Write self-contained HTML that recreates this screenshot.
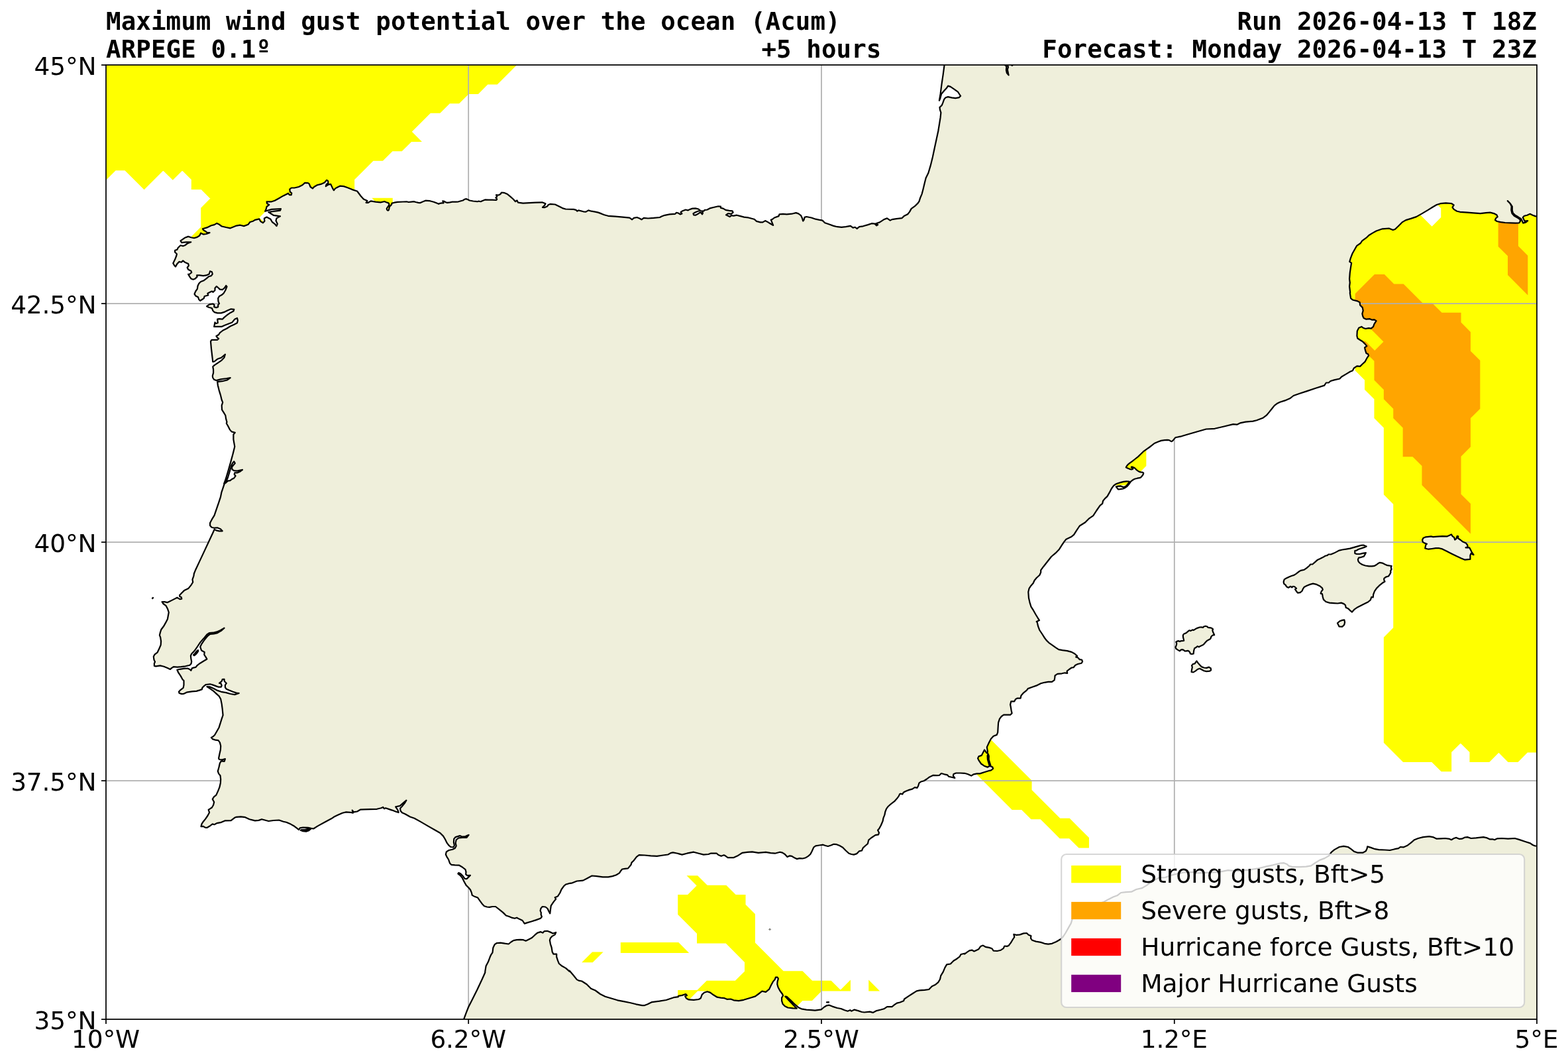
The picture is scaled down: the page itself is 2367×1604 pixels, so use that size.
<!DOCTYPE html>
<html lang="en">
<head>
<meta charset="utf-8">
<title>Maximum wind gust potential over the ocean (Acum) - ARPEGE 0.1º</title>
<style>
html,body{margin:0;padding:0;background:#fff;}
body{width:2367px;height:1604px;overflow:hidden;}
svg{display:block;}
.mono{font-family:"DejaVu Sans Mono","Liberation Mono",monospace;font-weight:bold;font-size:37.5px;fill:#000;letter-spacing:0.05px;}
.sans{font-family:"DejaVu Sans","Liberation Sans",sans-serif;font-size:37.5px;fill:#000;}
.tk{letter-spacing:-0.18px;}
</style>
</head>
<body>
<svg xmlns="http://www.w3.org/2000/svg" width="2367" height="1604" viewBox="0 0 2367 1604">
<defs><clipPath id="ax"><rect x="160" y="98" width="2160" height="1440"/></clipPath></defs>
<rect x="0" y="0" width="2367" height="1604" fill="#ffffff"/>
<g clip-path="url(#ax)">
<path d="M145.6,83.6 779.2,83.6 779.2,98 750.4,126.8 736,126.8 721.6,141.2 707.2,141.2 692.8,155.6 678.4,155.6 664,170 649.6,170 620.8,198.8 635.2,213.2 620.8,213.2 606.4,227.6 592,227.6 577.6,242 563.2,242 534.4,270.8 534.4,314 404.8,314 390.4,328.4 404.8,342.8 404.8,371.6 289.6,371.6 289.6,357.2 304,342.8 304,314 318.4,299.6 304,285.2 289.6,285.2 289.6,270.8 275.2,256.4 260.8,270.8 246.4,256.4 217.6,285.2 188.8,256.4 174.4,256.4 160,270.8 145.6,270.8Z M563.2,299.6 592,299.6 592,314 577.6,314Z M2334.4,299.6 2334.4,1134.8 2320,1134.8 2305.6,1134.8 2291.2,1149.2 2276.8,1149.2 2262.4,1134.8 2248,1149.2 2219.2,1149.2 2219.2,1134.8 2204.8,1120.4 2190.4,1134.8 2190.4,1163.6 2176,1163.6 2161.6,1149.2 2118.4,1149.2 2089.6,1120.4 2089.6,962 2104,947.6 2104,760.4 2089.6,746 2089.6,645.2 2075.2,630.8 2075.2,602 2060.8,587.6 2060.8,573.2 2046.4,558.8 2046.4,544.4 2032,544.4 2032,371.6 2060.8,342.8 2075.2,328.4 2104,328.4 2132.8,299.6Z M1715.2,674 1729.6,674 1729.6,702.8 1715.2,717.2 1700.8,731.6 1672,731.6 1672,717.2Z M1470.4,1091.6 1556.8,1178 1556.8,1192.4 1600,1235.6 1614.4,1235.6 1628.8,1250 1643.2,1264.4 1643.2,1278.8 1628.8,1278.8 1614.4,1264.4 1600,1264.4 1585.6,1250 1571.2,1235.6 1556.8,1235.6 1542.4,1221.2 1528,1221.2 1456,1149.2 1456,1106Z M880,1451.6 894.4,1437.2 908.8,1437.2 894.4,1451.6Z M937.6,1422.8 1024,1422.8 1038.4,1437.2 937.6,1437.2Z M1038.4,1322 1052.8,1322 1067.2,1336.4 1096,1336.4 1110.4,1350.8 1124.8,1350.8 1124.8,1365.2 1139.2,1379.6 1139.2,1422.8 1182.4,1466 1211.2,1466 1225.6,1480.4 1254.4,1480.4 1268.8,1494.8 1283.2,1480.4 1283.2,1494.8 1240,1494.8 1225.6,1509.2 1211.2,1509.2 1196.8,1523.6 1196.8,1538 1067.2,1538 1067.2,1494.8 1052.8,1494.8 1067.2,1480.4 1110.4,1480.4 1124.8,1466 1124.8,1451.6 1096,1422.8 1052.8,1422.8 1052.8,1408.4 1024,1379.6 1024,1350.8 1038.4,1350.8 1052.8,1336.4Z M1024,1494.8 1052.8,1494.8 1038.4,1509.2 1024,1509.2Z M1312,1480.4 1326.4,1494.8 1312,1494.8Z" fill="#ffff00" stroke="#ffff00" stroke-width="1.5" stroke-linejoin="miter"/>
<path d="M2161.6,299.6 2176,314 2176,328.4 2161.6,342.8 2132.8,314Z" fill="#ffffff"/>
<path d="M2161.6,299.6 2176,314 2176,328.4 2161.6,342.8 2132.8,314Z" fill="none" stroke="#ffff00" stroke-width="1.5" stroke-linejoin="miter"/>
<path d="M2075.2,414.8 2089.6,414.8 2104,429.2 2118.4,429.2 2147.2,458 2161.6,458 2176,472.4 2204.8,472.4 2204.8,486.8 2219.2,501.2 2219.2,530 2233.6,544.4 2233.6,616.4 2219.2,630.8 2219.2,674 2204.8,688.4 2204.8,746 2219.2,760.4 2219.2,803.6 2147.2,731.6 2147.2,702.8 2132.8,688.4 2118.4,688.4 2118.4,645.2 2104,630.8 2104,616.4 2089.6,602 2089.6,587.6 2075.2,573.2 2075.2,544.4 2046.4,515.6 2046.4,443.6Z M2262.4,328.4 2262.4,371.6 2276.8,386 2276.8,414.8 2305.6,443.6 2305.6,386 2291.2,371.6 2291.2,328.4Z" fill="#ffa500" stroke="#ffa500" stroke-width="1.5" stroke-linejoin="miter"/>
<path d="M2089.6,515.6 2075.2,530 2060.8,515.6 2046.4,515.6 2046.4,486.8 2060.8,486.8Z" fill="#ffff00"/>
<path d="M2089.6,515.6 2075.2,530 2060.8,515.6 2046.4,515.6 2046.4,486.8 2060.8,486.8Z" fill="none" stroke="#ffa500" stroke-width="1.5" stroke-linejoin="miter"/>
<path d="M707.2,98 V1538 M1240,98 V1538 M1772.8,98 V1538 M160,458 H2320 M160,818 H2320 M160,1178 H2320" fill="none" stroke="#b0b0b0" stroke-width="1.75"/>
<path d="M1425.5,92 1425.6,98 1423.7,112.3 1421.5,127.2 1419.6,142 1417.9,151.7 1419.2,149.1 1421.1,141.7 1425.6,136.5 1429.3,132.4 1431.1,129.6 1434.9,130.9 1440.4,134.6 1446,138.7 1448.2,142 1450.1,144.8 1447.9,147.1 1442.3,148.2 1436.7,147.3 1431.1,146.1 1427.4,147.3 1425.2,149.9 1423.3,155.1 1421.8,158.8 1418.5,162.1 1419.1,166.2 1420.4,169.9 1419.6,177.4 1418.1,186.7 1416.3,197.8 1413.5,210.8 1410.7,223.8 1407.9,236.9 1404.7,249.9 1401.4,261 1397.7,268.5 1395.8,275.9 1393.6,285.2 1391.7,292.6 1389.3,298.2 1387.5,303.8 1385.6,306.6 1380.9,311.2 1375.7,314.9 1373.1,319.6 1370.2,323.3 1364.6,326.1 1361.4,329.2 1353.1,330.2 1346.6,331.1 1343.8,332.6 1339.1,329.4 1334.1,331.3 1328,335.4 1322.4,337.2 1325.2,339.1 1323.3,340.4 1320.5,337.6 1315.9,337.2 1310.3,339.1 1302.9,341.3 1297.3,342.2 1293.6,345 1290.8,342.8 1287.6,343.7 1283.9,340.9 1276.9,342.2 1270.3,342.8 1263.8,342.2 1258.3,340.9 1251.8,338.5 1245.2,336.3 1241.5,332.6 1236,331.7 1231.3,330.7 1224.8,328.5 1217.4,327 1214.6,327.9 1213.6,331.7 1212.2,333.5 1210.9,328.9 1209,325.1 1205.3,322.4 1201.6,321.1 1195.1,322.7 1187.6,323.3 1182,322.9 1176.5,323.3 1175.5,326.1 1169,328.5 1166.2,330.7 1163.8,331.7 1165.3,335.4 1167.2,340 1162.5,337.2 1157.9,334.4 1155.1,333.1 1151.4,335.4 1147.7,335.4 1142.1,333.9 1138.4,330.7 1130,328.5 1129.8,328.4 1123.3,327.6 1117.7,326.1 1112.2,324.7 1107.5,325.6 1103.8,325.2 1101.6,327.1 1099.1,325.8 1096,324.3 1099.1,322.1 1103.8,322.8 1106.6,320.6 1105.7,318.3 1101,317.8 1095.4,316.9 1091.7,314.6 1088,313.7 1088,311.6 1084.3,311.3 1077.8,312.8 1072.2,314.1 1067.5,316.5 1063.8,316.9 1062,318.7 1059.2,318.3 1061,321.5 1060.1,323.4 1057.3,320.2 1053.6,322.8 1049.9,324.7 1047.1,324.3 1046.5,322.1 1049.9,320.2 1053.6,318.7 1057.3,317.8 1054.5,315.5 1049.9,314.4 1045.2,314.6 1040.6,316.3 1038.7,317.4 1035,316.5 1030.4,318.2 1027.6,320.2 1029.4,322.4 1026.7,323.4 1023.9,321.5 1021.1,320.9 1019.2,322.8 1010.9,323.4 1003.4,324.8 998.8,326.5 996,328 986.7,328.9 978.3,329.5 971.8,328.9 968.5,331.3 965.3,329.5 961.6,328 956.9,328.9 954.2,331.3 950.4,328.6 940.2,327.6 929.1,326.7 917.9,325.8 912.3,324.3 907.7,322.4 903,320.6 898.4,319.6 892.8,318.7 888.2,317.4 884.5,319.6 880.7,319.3 873.3,317.4 871.4,318.7 869.6,316.9 865.9,315.9 853.8,315.5 849.1,314.1 843.6,311.3 838,308.5 830.5,307.9 827.8,309 825.9,311.6 822.2,313.1 819,312.8 822.2,309.8 823.5,307.2 818.5,305.3 808.2,305.7 798.9,306.1 789.6,306.6 782.2,305.7 780.4,302.4 778.1,304.2 774.8,300.5 770.1,296.4 765.5,292.7 760.8,290.8 757.1,290.5 755.3,293.1 752.5,294.5 749.1,294.2 750.2,296.8 748.4,298.3 750.2,300.5 749.1,302 743.2,301.6 737.6,301.6 732,301.4 728.3,302.9 725.5,304.2 722.7,303.5 720.5,304.2 714.4,303.5 708.8,302.5 706,301 703.6,300.1 701.3,300.7 699.4,302.2 695.7,303.2 692,304.3 688.3,304.6 682.7,304.7 679,305.4 675.2,305.9 672.9,305.2 670.6,303.8 668.3,303.3 669.2,304.7 669.5,306.3 666.9,306.4 664.1,306.8 662.2,307.8 659.4,306.6 654.8,304.7 649.2,303.2 645.5,302.9 642.3,302.7 639,304.1 636.2,305.2 634.4,306.1 631.6,305.9 627.8,305 624.6,304.1 620.4,304.6 616.7,305 613.9,304.3 608.3,304.5 600,304.9 595.3,305.7 591.6,306.6 591.1,308.5 589.7,310.3 588.3,311.2 587.4,314.5 586.8,317.1 585.6,317.7 584.4,316.8 583.7,315 584.6,313.1 586.2,311.2 587.4,308.9 587.1,307.1 586,306.1 583.2,305.2 580.4,304.1 580.5,304 574.5,305.3 567.1,304.7 559.7,303.4 555.9,305.8 552.6,305.8 554.5,303 548.9,300.6 544.8,296 539.2,288.5 531.8,286.1 524.3,283 518.8,281.1 513.2,280.7 509.5,282.6 506.1,284.4 503.9,287.2 502,283.9 499.2,277.9 495.5,278.7 491.8,281.1 492.7,278.3 495.5,276.5 495.2,273.1 493.1,271.8 489.9,275.5 484.4,277.9 478.8,279.2 474.1,282 471.9,284.4 468.6,282 466.7,277.4 464.9,276.1 460.2,275.9 456.5,279.2 450.9,282 444.4,283.5 439.8,283.5 437.3,285.7 437.9,289.5 440.3,291.3 439.8,294.1 437,294.1 435.1,291.7 427.7,295.4 420.2,299.7 414.7,302.8 410,304.3 402.6,304.3 403.1,307.1 406.3,309 402.6,311.8 401.7,315.5 400.2,318.8 410,315.9 424,315.1 423,317.7 410.9,319.2 405.4,320.1 412.8,324.8 423,326.3 417.5,329.4 416.5,333.1 418.8,337.8 417.5,341.1 414.7,337.8 410.9,335 408.2,330.4 402.6,327.6 398.9,329.4 399.4,333.7 397,336.3 393.3,334.1 391.4,330.4 384.9,331.8 382.1,333.7 377.5,335 374.7,338.7 368.2,341.1 362.6,339.7 357,340.6 347.7,344.3 341.2,343 334.7,341.5 330.1,338.2 327.3,336.9 323.6,339.1 318.9,340.2 312.4,343.4 305.9,345.2 306.9,347.1 310.6,349.3 312.4,350.8 316.5,351.2 311.5,353 306.9,353.6 303.1,351.7 301.3,355.5 297.6,357.9 292.9,359.2 288.3,358.2 284.2,356.9 279,358.8 272.5,363.4 274.3,366.2 280.8,365.3 288.3,365.3 282.7,367.5 279,370.3 276.2,371.3 272.5,370.3 268.7,374 267.4,376.8 264.1,377.8 264.1,380.5 266.9,383.3 266.3,385.9 266.3,386 264.1,391.6 261.3,397.2 263.2,400.5 265,402.4 267.4,398.1 270.6,394.9 273.8,395.7 276.2,393.4 279,395.7 284.2,398.1 284.9,400.9 282.7,403.7 284.2,406.8 288.3,408.7 289.2,411.1 286.4,413.5 284.2,413.9 286.4,417.6 288.3,420.4 291.6,421.7 294.8,420.4 297.6,417.6 297.2,415.4 301.3,415.4 306.9,416.1 311.5,415.4 315.8,413.5 317.1,409.2 319.9,410.2 320.8,413.5 318.9,416.1 315.2,417.2 311.5,420.4 307.8,423.2 303.1,425 300.3,427.8 298.5,431.5 297.9,435.8 295.3,439.5 293.5,443.6 295.3,446.4 299,448.3 300.3,452 302.2,453.8 305,452 307.8,450.1 308.7,447 314.3,445.5 313.4,442.7 317.1,440.8 319.9,439.5 321.7,440.8 324.5,438 324.5,434.7 326.9,432.1 329.2,434 331.9,436.6 335.7,437.1 338.8,434.7 341.2,431 342.5,432.5 340.3,438 337.5,442.7 334.7,445.1 331,447 329.2,450.1 329.5,454.8 331,458.1 329.2,460 329.2,463.1 326.4,464.1 323.2,463.1 323.6,460 321.3,458.5 316.1,459.4 312.1,462.2 315.2,463.7 319.9,465 321.3,468.7 323.6,471.1 328.2,472.4 333.8,472.4 339.4,470.6 344,468.2 348.7,466.3 353.3,466.9 352.4,469.6 347.7,471.9 343.1,475.2 338.5,478.9 335.7,481.7 331,481.2 328.2,481.7 328.8,487.3 325.8,488.2 324.5,486.4 323.2,492.9 328.2,492.9 334.4,492.9 339.4,490.7 345.9,488.2 350.5,486.4 354.3,481.7 358,479.9 358.9,483.6 358,487.3 353.3,489.7 347.7,492.3 342.2,495.7 336.6,498.5 331.9,502.2 330.1,505 326.4,507.2 328.2,509.6 330.1,510.9 328.2,512.8 323.6,512.8 319.5,512.8 318,515.2 318.9,525.4 320.2,536.6 321.3,545.9 323.6,545.5 328.2,541.8 333.8,539.9 337.5,536.9 339.9,534.7 338.5,539.4 334.7,543.6 329.2,547.3 323.6,551.1 321.3,553.3 322.1,557.9 322.1,562.6 320.8,567.2 321.3,570 323.2,572.8 326.4,574.1 332.9,572.4 342.2,571 347.7,570 343.1,573.4 335.7,575.2 328.2,576.2 328.8,581.2 330.6,588.6 332.9,596.1 334.7,603.5 336.2,607.2 334.7,611.9 335.1,618.4 337.5,622.1 340.3,626.7 341.2,632.3 342.5,636.9 341.8,638.8 344,642.5 346.8,648.1 349.6,651.4 354.8,652.7 352.4,655.5 352.4,663 353.7,670.4 354.3,673.9 354.3,674 351.5,685.2 347.7,699.1 344,712.1 340.3,724.2 338.1,729.8 341.2,727 344,720.5 346.8,711.2 349.2,702.8 351.5,698.2 353.3,696.3 354.8,699.1 352.4,701.9 350,704.7 350.5,708.4 353.3,710.2 358,710.6 366,708.9 362.6,711.5 358,713.4 354.3,713.4 353.7,715.8 355.6,718.2 353.3,721.4 349.6,723.3 347.4,725.1 344,725.7 341.2,728.3 338.8,729.8 336.6,736.3 334.4,742.8 332.9,750.2 330.1,758.6 326.9,767.9 323.6,777.7 319.9,783.7 317.1,788.9 317.1,793 319.5,795.8 323.6,796.7 328.2,796.3 332.9,798.2 335.7,801.3 331,801.3 326.4,800.4 323.6,798.9 321.7,803.2 316.1,815.3 308.7,831.1 301.3,846.9 294.8,860.8 292.9,865.5 292.4,869.2 290.5,874.4 291.2,878.5 288.3,883.1 284.2,888.1 278,891.1 274.3,894.8 271.2,898 271.2,899.9 273.8,901.2 274.3,903.6 271.5,904.1 267.4,901.7 261.3,904.9 252.9,909.1 248.3,908.2 244.6,908.2 246.4,911 250.7,914.2 252.9,918.4 254.8,924 253.9,928.7 252.9,934.2 250.2,939.4 247.4,944.5 243.3,950 241.8,954.7 240.9,958.4 242.2,961.9 242.2,962 243.1,967.6 242.7,973.2 240.3,978.7 237.7,984.3 233.4,987.7 231.8,990.8 232.5,995.5 234,998.8 232.9,1001 232.9,1004.8 235.3,1005.3 241.8,1004.4 247.4,1005.7 252.9,1007.9 257,1010 258.9,1008.1 261.9,1006.2 267.8,1006.6 273.4,1006.2 279.9,1005.3 286.4,1003.8 288.6,1001.4 289.2,998.2 288.3,993.6 287.9,989.5 289.2,986.5 292.4,983.4 295.3,979.7 298.5,975 302.2,969.4 306.9,963.9 308.7,962 308.7,961.9 312.4,957.5 315.8,955.1 321.7,954.7 327.3,953.4 332.9,951 338.5,947.6 333.8,951.9 328.2,955.1 322.7,956.5 317.1,956.9 313.9,959.3 311.5,961.9 311.5,962 307.8,966.6 304.1,972.2 302.2,975.9 304.1,981.5 308.7,983.9 308.3,988 310.6,991.4 312.4,994.5 307.8,997.3 302.2,1000.7 297.9,1003.8 295.7,1006.6 290.1,1008.1 288.3,1011.8 286.4,1010 283.1,1008.5 277.1,1008.8 271.5,1009.8 267.4,1010.7 269.3,1015 272.5,1019.6 275.6,1025.2 277.5,1027.1 277.5,1033.6 276.7,1037.8 272.5,1041 270,1043.8 270.6,1046 274.3,1047.1 277.1,1047 281.8,1044.7 290.1,1043.4 296.6,1042.9 301.6,1041.4 305,1040.1 305.4,1037.8 308.3,1034.9 310.9,1033 317.1,1032.3 321.7,1033.6 326.4,1035.4 330.1,1036.7 333.8,1036.7 334.7,1034.5 333.8,1031.7 331,1030.8 334.7,1028 335.7,1025.2 338.5,1024.8 338.8,1028 341.8,1031.1 339.9,1033.6 339.9,1037.3 341.8,1039.7 345.9,1041.6 351.5,1043.8 357,1045.6 360.8,1046 354.3,1048.1 347.7,1047 341.2,1045.1 333.8,1043.8 328.2,1041.9 322.7,1039.1 317.1,1036.4 312.4,1036 317.1,1039.1 321.7,1042.3 326.4,1046.6 330.6,1050.3 333.2,1054.9 334.7,1062.4 335.7,1069.8 336.6,1079.1 334.7,1084.7 332.9,1090.3 330.6,1097.7 326.9,1104.2 324,1109.2 321.3,1111.6 318.9,1112.9 321.3,1115.4 325.4,1116.7 329.5,1117.2 331.9,1120.4 333.2,1125.6 332.9,1131.2 331.4,1137.7 330.1,1144.2 331,1146 335.7,1146.4 339.9,1145.1 338.8,1148.8 333.8,1148.4 331.9,1151.6 330.6,1157.2 328.8,1163.7 330.1,1167.4 332.5,1170.2 333.2,1175.8 332.9,1181.3 331.4,1187.9 329.2,1193.4 326.4,1199.6 322.7,1202.7 320.8,1205.9 323.2,1210.2 322.1,1214.8 319.9,1218.5 317.1,1220.4 314.7,1221.9 316.1,1226 313.4,1231 310.2,1235.6 306.9,1239.7 304.6,1243.1 303.5,1247.1 306.9,1246.8 309.6,1248.6 312.4,1249 316.1,1246.8 320.8,1243.4 323.6,1244.2 327.3,1242.1 332.9,1241.2 339.4,1238.4 348.7,1238.2 354.3,1233.8 357,1232.8 363.5,1232.3 370.1,1233.2 376.6,1236.2 384.9,1238.4 390.5,1237.9 395.1,1236.2 405.4,1239 412.8,1238 421.2,1237.5 427.7,1239.7 432.3,1240.8 438.8,1243.6 444.4,1246.8 448.1,1249.6 450.9,1252 452.8,1249.4 457.4,1248.6 464.9,1248.8 469.5,1249.9 473.2,1250.5 479.7,1246.4 490.9,1240.3 500.2,1235.3 503.9,1232.8 509.5,1230 516.9,1226.7 522.5,1225.4 529,1225.8 532.7,1226.7 531.8,1222.6 534,1225.4 539.2,1224.5 543.9,1221.7 550.4,1221.3 559.7,1221.1 569,1220.8 575.5,1219.3 578.2,1218 580.1,1220.4 582,1219.3 587.5,1221.1 592,1222.6 592,1222.6 597.6,1224.8 601.7,1226 600.4,1222.2 597.2,1217.4 600.4,1216.7 603.5,1216.1 607.8,1212.4 613.4,1207.7 610.6,1212.4 606.9,1216.7 604.1,1219.8 604.6,1223.5 606.9,1226.3 611.5,1228.2 619,1232.5 625.5,1234.7 634.8,1239.9 645.9,1246.4 657.1,1252.7 664.5,1257 669.1,1261.6 671.9,1266.3 674.7,1271.9 677.5,1275.6 680.3,1278 684.6,1278.4 685.9,1275.6 684.9,1270.9 685.3,1265.7 687.7,1263.1 694.2,1261.1 697.6,1262.6 702.6,1262 707.6,1259.8 704.5,1263.9 698,1263.9 692.4,1264.4 688.7,1267.2 687.7,1271.9 688.7,1276.5 686.8,1279.9 683.1,1281.7 677.5,1283 673.8,1285.4 672.9,1289.2 674.2,1292.3 677.1,1297 679,1302.5 681.2,1304.8 686.8,1305.3 693.3,1305.7 698,1308.5 702.6,1312.2 703.5,1315.6 703.2,1319.3 705.4,1321.1 710,1320.8 706.9,1323.9 704.5,1326.2 701.7,1325.8 698.9,1322.1 695.2,1318.3 692.4,1317 691.4,1318.3 694.6,1320.8 698,1324.9 700.7,1330.4 703.5,1335.6 707.2,1339.3 710,1342.5 711.9,1347.2 712.8,1350.9 715.6,1352.4 721.2,1354.6 724.9,1359.8 728.6,1364.8 731,1367.2 735.1,1368.5 738.9,1368.9 743.5,1368 748.1,1368 753.7,1372.3 759.3,1376.9 763.9,1381.5 768.6,1383 773.2,1384.9 777,1385.8 780.1,1384.7 783.5,1386.6 788.7,1389 791.8,1393.6 796.5,1392.1 802.1,1390.5 809.5,1388.1 816,1385.8 817.9,1383.4 816.6,1379.7 816.9,1377.3 815.6,1374.1 816.6,1370.4 818.8,1368 823.4,1368.5 826.6,1371 828.4,1375 830.3,1378.4 830.9,1373.2 831.8,1366.7 835.5,1361.1 839.2,1356.5 837.7,1354.2 842,1352.4 845.2,1347.5 847.6,1342 851.3,1336.9 854.1,1334.5 858.7,1333.2 863.8,1332.3 870.8,1329.5 880.1,1328.6 886.6,1325.2 893.5,1321.5 900.6,1322.1 909.9,1323.4 918.2,1323.4 924.7,1322.1 930.3,1320.2 935,1317.4 937.4,1313.7 939.2,1311.5 943.3,1310.9 948,1310.4 952.6,1304.8 953.5,1301.6 956.7,1298.5 961,1292.9 964.7,1290.1 973.1,1290.5 982.4,1291.4 991.7,1291.8 1001,1290.5 1008.4,1289.5 1012.5,1287.1 1015.8,1286.4 1024,1288 1024,1288.1 1029.6,1289.6 1037,1287.7 1047.2,1285.7 1054.7,1287.7 1062.1,1289.6 1069.5,1289 1072.7,1287.7 1081.6,1287.5 1084.4,1290 1088.7,1291.8 1092.8,1290.3 1095.6,1291.8 1098.7,1294.1 1107.6,1294.1 1114.2,1290.9 1120.7,1286.8 1128.1,1285.9 1135.5,1285.3 1144.8,1286.8 1156,1285.9 1163.4,1287.2 1169.9,1287.7 1177.4,1285.7 1181.1,1286.6 1184.8,1289 1188.5,1293.1 1192.2,1291.3 1195,1291.8 1199.7,1294.6 1202.8,1296.1 1207.1,1295.2 1211.7,1295.5 1216.4,1294.2 1220.1,1291.8 1223.3,1289 1225.7,1284.4 1228.5,1278.3 1231.3,1276.4 1236.8,1275.5 1242.4,1274.7 1246.1,1276 1249.9,1277 1254.5,1275.5 1258.6,1273.8 1262.9,1274.2 1267.5,1276 1272.2,1278.8 1276.8,1283.5 1281.5,1287.7 1285.2,1289 1288.9,1289.6 1293.5,1288.1 1296.9,1284.4 1301,1283.5 1302.8,1279.4 1306.5,1276 1309.9,1273.2 1311.2,1267.7 1314.9,1264.5 1321.4,1260.2 1326.1,1259.3 1327,1256.5 1325.1,1252.8 1327.4,1250 1327.4,1249.9 1329.8,1245.5 1332.6,1239 1333.5,1234.3 1335.4,1229.7 1336.3,1225 1338.1,1220.4 1340.9,1216.7 1344.7,1213.3 1350.2,1209.2 1353.9,1205.1 1356.7,1201.4 1358.2,1198.1 1360.1,1197.7 1362.3,1198.4 1363.8,1195.8 1367,1194 1372.5,1191.9 1377.2,1190.6 1380.9,1188.2 1384.6,1188.8 1386.1,1186 1387.4,1181.7 1390.2,1179.5 1394.8,1178.2 1398.6,1175.8 1403.2,1172.4 1408.8,1169.8 1414.4,1170.2 1418.1,1169.8 1420.9,1167 1425.5,1168.3 1430.2,1169.3 1432,1171.7 1437.6,1173 1441.3,1173.9 1438.9,1170.6 1439.5,1168 1443.2,1166.5 1449.7,1166.5 1456,1166.8 1456,1166.8 1460.6,1168 1466.2,1170.6 1469.9,1168.3 1474.6,1167.4 1479.2,1167.4 1485.7,1165.2 1492.2,1163.3 1496,1162.4 1499.1,1160 1498.4,1157.6 1495.8,1156.4 1494.3,1151.6 1492.6,1146 1492.8,1140.8 1491.7,1137.7 1490.6,1140.1 1490.9,1146 1492.4,1151.2 1493.9,1156.1 1490.9,1157.6 1485.7,1155.7 1481.1,1152.5 1477.9,1147.9 1476.1,1144.2 1477.4,1141.4 1481.7,1139.9 1483.9,1135.8 1486.1,1131.5 1489.1,1135.8 1490.6,1136.7 1490.9,1133.9 1489.8,1127.4 1493.2,1120 1496,1114.8 1499.7,1110.7 1504.7,1108.9 1506.2,1105.1 1506.6,1097.7 1507.1,1090.3 1509,1084.7 1511.8,1081 1515.1,1078.7 1520.1,1078.6 1525.1,1078.7 1527.6,1076.3 1526.6,1071.7 1525.7,1066.1 1525.1,1063.3 1526.3,1058.3 1531.3,1058.3 1533.1,1054.9 1535.9,1053.6 1540.6,1053.6 1541.5,1049.4 1545.2,1045.3 1549.9,1041.6 1551.7,1039.1 1558.2,1036.7 1565.7,1034.1 1571.2,1031.3 1576.8,1029.8 1582.4,1028.9 1588,1028.9 1591.7,1026.1 1592.3,1022.4 1592.6,1019.3 1596.3,1016.8 1602.9,1016.3 1607.5,1015.3 1611.2,1015.9 1610.7,1012.6 1614,1010 1617.7,1007.5 1620.5,1007.2 1623.3,1003.8 1627,1002 1632.6,1000.7 1634.1,998.2 1633,995.5 1629.8,995.1 1627,992.3 1624.2,991.4 1626.1,989.9 1622.4,986.5 1617.7,983.9 1611.2,982.1 1603.8,981.1 1598.2,980.2 1593.6,977.2 1588,973.2 1583.3,969.8 1579.6,966.1 1576.5,962 1576.5,961.9 1573.1,956.5 1569.4,951 1567.2,945.4 1565.7,938.9 1564.7,938 1569,936.1 1567.2,933.3 1563.8,927.7 1560.1,921.2 1556.4,915.3 1554.5,909.1 1553,902.6 1552.3,893.3 1553.6,887.8 1556.4,883.7 1559.7,880 1561.6,875.7 1564.7,872 1569.4,867.7 1571.2,863.6 1571.2,860.4 1575,855.2 1580.5,848.2 1587,840 1593.6,834.4 1599.1,828.7 1602.9,822.7 1606.6,817.1 1609.4,813.8 1614,811.6 1617.7,809.7 1621.1,806.9 1625.2,800.4 1629.8,793.5 1638.2,788.3 1643.7,782.7 1650.3,778.1 1654.9,771 1660.5,762.9 1664.2,759.9 1665.1,755.8 1667.9,752.4 1671.6,748.9 1675.3,742.4 1676.5,740 1677.8,737.5 1679.6,734.9 1681.7,732.3 1684.3,730.5 1687.4,729.2 1692,727.9 1696.1,726.9 1700.3,726.4 1703.9,726.5 1705.2,727 1703.4,729.2 1701.3,732 1699.2,734.1 1696.1,735.1 1693.8,734.4 1692,733.4 1687.9,733.6 1684.8,734.4 1686.3,736.4 1688.1,738.5 1691,738.2 1695.1,737.5 1698.2,736.2 1701.3,734.1 1703.9,731 1706,728.2 1707.5,726.1 1709.6,724.5 1712.7,722.7 1716.8,721.7 1719.9,721.2 1722.2,720.4 1724,718.3 1725.3,716.5 1726.1,714.7 1726.1,713.4 1724.5,712.7 1722,712.4 1719.9,711.9 1717.8,710.6 1715.8,709.1 1713.7,707 1712.2,705.7 1710.3,704.9 1708.3,704.4 1707.8,705.2 1709.6,706.2 1710.3,707 1709.8,708 1708,708.3 1705.4,707.8 1702.3,706.5 1699.8,705.2 1700.8,703.4 1702.3,701.3 1704.9,699.2 1709.1,696.1 1713.7,692.5 1718.3,688.9 1722,685.3 1725.6,681.7 1729.7,678.6 1734.9,675 1739,671.9 1742.6,669 1747.8,666.7 1752.9,664.9 1758.1,664.1 1762.2,663.9 1764.8,664.1 1766.9,665.4 1768.7,666.2 1770.5,664.9 1772.3,662.6 1774.1,660.5 1775.1,660 1783.5,658.3 1792.8,655.5 1805.8,651.8 1820.7,647.5 1833.7,646.8 1846.7,643.8 1861.6,640.1 1867.2,640.7 1871.8,638.4 1880.2,636.6 1891.3,635.6 1896.9,634.2 1906.2,630.8 1911.8,626.7 1915.5,622.4 1920.2,616.5 1923.9,611.9 1927.6,609.1 1932.2,606.8 1939.7,604.4 1947.1,601.3 1952.7,597 1962,593.8 1973.1,590.1 1986.1,585.8 1999.2,581.6 2001.9,577.5 2005.7,577.5 2008.5,575 2014,573.4 2022.4,571.5 2025.2,568.5 2032.6,564.1 2038.2,560.7 2041.9,559.2 2043.8,555.5 2048.4,552.4 2053.1,552.9 2056.8,549.2 2060.5,545.9 2063.3,540.7 2066.1,536.6 2065.1,534.3 2062.4,532.9 2060.9,528.2 2060.1,524.5 2063.3,522.1 2060.5,518.9 2056.8,515.2 2053.1,513 2049.3,510.5 2048.4,506.8 2048.8,499.4 2051.2,494.7 2055.3,492.9 2057.7,494.7 2061.4,496 2066.1,495.1 2069.8,495.7 2073.1,492.9 2074.4,489.2 2077.6,484.1 2074.4,482.3 2071.3,482.7 2067.9,481.2 2062.4,481.7 2058.6,479.9 2057.2,477.1 2056.4,473.4 2057.7,468.7 2056.8,464.1 2053.1,460.4 2052.7,456.3 2049.3,454.4 2041.9,452.5 2039.1,450.1 2037.8,441.8 2038.2,441.4 2037.1,432.1 2037.8,426.5 2037.1,420.9 2037.8,411.7 2038.9,404.2 2040.1,396.8 2037.3,394.9 2038.9,389.3 2041.4,382.8 2045.1,376.3 2048.2,370.8 2053.8,367 2056.2,363.3 2062.7,358.7 2066.5,355 2072,351.6 2077.6,348.5 2086.9,345.3 2097.1,344.7 2102.7,347 2105.9,346 2111.1,341 2116.6,335.4 2122.2,332.1 2129.7,329.9 2138,327.1 2146.4,322.4 2155.7,316.9 2163.1,312.2 2168.7,309 2174.3,307.2 2182.6,306.3 2191,307 2194.7,309.4 2192.5,312.8 2194.7,315.9 2199.4,318.7 2204,319.8 2215.2,320.6 2224.5,321.3 2234.7,322.1 2243,321.1 2249.5,320.6 2255.1,322.1 2259.4,324.3 2260.7,327.1 2257.9,329.5 2257,332.1 2259.8,334 2265.3,335.1 2271.9,336 2280.2,336.4 2287.7,336.7 2293.2,336.4 2295.1,333.6 2294.2,330.8 2290.4,328.4 2285.8,325.8 2282.5,322.1 2281.3,316.9 2281.7,311.3 2279.3,306.6 2275.8,303.1 2280.2,307.6 2282.8,311.6 2282.8,317.2 2283.9,321.5 2287.3,324.7 2291.7,327.3 2296.2,330.2 2297.7,333.2 2299.2,336.6 2303.5,335.4 2306.2,333.2 2301.6,333.6 2300.3,331.3 2298.8,328 2301,325.8 2305.3,324.7 2309.6,322.8 2313.7,324.7 2317.4,326.1 2320,326.7 2326,326.7 2326,92Z M700,1544 700.2,1537.9 703.5,1528.8 707.2,1519.5 712.8,1508.4 720.3,1493.5 727.7,1477.7 732.3,1467.5 732.3,1465.9 733.6,1457.8 737,1451.3 739.8,1443.8 741.6,1440.1 743.5,1437.3 744.4,1429.9 746.7,1425.2 750,1423 755.6,1422.6 762.1,1423.7 767.7,1424.5 771.4,1421.5 775.1,1419.1 780.1,1418.2 785.3,1417.8 790,1418.2 793.7,1419.7 798.3,1417.4 803,1415 807.6,1410.7 811.3,1407.6 816,1406.1 819.2,1407.6 821.6,1405.2 826.2,1404.8 830.9,1406.6 834.6,1408.5 839.2,1407 837.7,1410.4 833.7,1412.6 830.9,1415.6 829.9,1418.7 830.9,1424.3 832.7,1429.9 833.7,1436.4 835.5,1439.7 840.2,1439.7 840.2,1443.8 842,1449.4 843.9,1454 848.5,1457.8 854.1,1460.9 859.7,1465.9 859.7,1464.7 865.3,1471.2 870.8,1478.1 873.6,1479.6 878.3,1480.5 885.7,1485.2 892.2,1491.7 898.7,1494.5 906.1,1500 913.6,1503.7 922.9,1506.5 932.2,1509.3 941.5,1511.2 950.8,1513 960.1,1515.3 969.3,1517.1 973.1,1517.1 977.7,1515.3 984.2,1512.1 995.4,1510.6 1005.6,1509 1016.8,1505.2 1024,1504.1 1024,1502.8 1029.6,1501.9 1035.2,1500 1037,1501.9 1034.2,1503.2 1036.1,1506.5 1039.8,1508.4 1047.2,1508.8 1054.7,1508 1057.8,1506.2 1059.7,1500.9 1063,1497.8 1067.7,1496.3 1072,1497.6 1077,1501.3 1082.6,1504.7 1088.1,1505.6 1093.7,1506.2 1097.4,1507.8 1103,1507.5 1107.6,1509.3 1115.1,1510.2 1122.5,1508.8 1131.8,1506 1140.2,1503.4 1144.8,1500 1150.4,1495.7 1156,1496.9 1161.2,1492.6 1163.8,1487 1166.8,1481.4 1169.9,1477.7 1170.9,1474.6 1173.6,1474.6 1174.9,1476.8 1173.6,1481.4 1173.3,1485.1 1174.6,1489.8 1177.4,1495 1181.1,1500 1182,1502.2 1180.1,1505.6 1180.1,1510.2 1181.6,1514.9 1184.8,1518.2 1189.4,1520.5 1196.9,1521.4 1202.8,1521.6 1197.8,1516.7 1191.3,1509.9 1185.3,1503.5 1187.6,1503.9 1194.1,1509.9 1200.6,1516.2 1205.8,1520.5 1209.9,1522.3 1217.3,1523.6 1224.8,1524.2 1230.3,1524.7 1239.6,1523.3 1244.3,1519.5 1248,1517.3 1251.7,1516.7 1256.4,1518.6 1263.8,1521 1269.4,1522 1274.9,1524.2 1279.6,1525.7 1283.3,1524.2 1285.2,1525.7 1289.8,1523.6 1295.4,1525.1 1301,1527 1304.7,1527.5 1313.1,1526.6 1317.7,1527.9 1323.3,1525.1 1328.9,1523.8 1334.4,1522.3 1339.1,1519.2 1346.5,1519.2 1350.2,1516.2 1353.9,1513.6 1358.6,1512.5 1364.2,1510.2 1365.1,1507.5 1371.6,1503.2 1377.2,1499.5 1383.7,1495.4 1388.3,1494.4 1395.8,1493.9 1402.3,1493 1406.9,1488.3 1411.6,1486.1 1416.2,1482.4 1419,1477.7 1420.3,1472.1 1423.7,1466.6 1426.4,1460.1 1429.2,1455.4 1434.8,1454.5 1439.5,1449.8 1444.5,1446.7 1448.8,1443.3 1450.6,1440 1456,1438.7 1456,1439.6 1459.7,1436.8 1463.4,1434.4 1467.5,1433.7 1470.5,1435.5 1473.7,1434 1477.4,1432.2 1480.2,1428.1 1483.9,1426.6 1487.6,1428.8 1493.2,1429.9 1497.3,1431.2 1499.7,1434.6 1505.3,1435 1510.8,1433.7 1514.6,1431.2 1516.4,1427.5 1520.1,1427.9 1522.5,1427 1525.7,1422.9 1528.5,1418.2 1531.3,1414 1530.4,1409.9 1534.1,1410.8 1539.6,1410.4 1545.2,1408.4 1549.9,1408 1552.7,1410.8 1556.4,1412.1 1556,1415.8 1558.2,1418.8 1563.8,1420.6 1571.2,1421.9 1576.8,1423.8 1582.4,1424.7 1588,1423.8 1594.5,1421 1601,1417.3 1604.7,1413.6 1608.4,1408 1613.1,1399.6 1616.8,1393.1 1618.7,1386.6 1623.3,1380.1 1630.7,1374.5 1640,1369.9 1653,1365.2 1660.5,1362.8 1666.1,1361 1673.5,1356.9 1680.9,1353.2 1686.5,1351.3 1692.1,1347 1699.5,1346.1 1707.9,1345.7 1715.3,1342 1723.7,1340.2 1731.1,1335.9 1738.5,1330.3 1749.7,1324.4 1759,1324 1768.3,1320.6 1775.7,1318.8 1785.9,1316.5 1799.9,1316 1809.2,1317.3 1818.5,1316.9 1827.8,1316.5 1838.9,1316 1846.4,1314.7 1853.8,1313.2 1861.2,1313.8 1870.5,1314.1 1879.8,1312.8 1888,1313.2 1888,1312.2 1899.2,1310.4 1910.3,1307.7 1921.5,1305.3 1932.6,1302.5 1938.2,1302.2 1942.8,1304 1945.6,1306.6 1951.2,1308.1 1962.4,1308.1 1971.6,1307.7 1979.1,1306.3 1984.7,1302.5 1992.1,1297.9 1999.5,1295.1 2006,1291.4 2009.8,1285.8 2014.4,1282.1 2021.8,1278 2028.3,1276.9 2034.9,1278 2039.5,1281.2 2044.1,1284.9 2049.7,1286.7 2057.2,1286.7 2061.8,1284.3 2063.7,1280.2 2064.2,1277.4 2069.2,1278.9 2075.7,1281.2 2081.3,1282.1 2090.6,1282.5 2098.1,1283 2105.5,1281.2 2111.1,1280.2 2113.9,1278 2118.5,1278.4 2124.1,1276.1 2129.7,1271.9 2135.2,1267.2 2140.8,1265 2148.2,1263.1 2157.5,1262.2 2163.1,1263.1 2168.7,1265.7 2175.2,1265.4 2181.7,1265 2188.2,1265.9 2191,1267.2 2194.7,1265 2198.4,1263.9 2203.1,1265.9 2206.8,1265.7 2211.4,1263.5 2215.2,1263.1 2220.7,1265 2228.2,1264.4 2239.3,1263.1 2244.9,1264.4 2248.6,1266.3 2253.3,1266.3 2256.1,1267.2 2259.8,1265.4 2267.2,1265 2276.5,1265.7 2286.7,1265 2293.2,1266.9 2302.5,1270 2310,1272.4 2313.7,1275 2317.4,1276.5 2320,1276.5 2326,1276.5 2326,1544Z M1938,876.7 1938.7,874.4 1941.8,872.4 1946.5,870.2 1950.3,868.7 1953.4,867.9 1956.5,865.9 1960.4,862.8 1963.5,860.9 1968.9,859.7 1972.8,856.9 1976.7,853.5 1978.2,851.5 1981.3,851.5 1985.2,848.1 1989.1,844.7 1992.9,843.1 1996.8,841.1 2000.7,838.8 2003.8,838 2005.3,836.5 2009.2,836.5 2013.9,834.6 2017.7,832.6 2021.6,830.6 2026.2,829.5 2031.7,828.7 2037.9,827.6 2044.1,825.9 2050.3,824.1 2054.9,822.8 2058,822.5 2062.7,824.4 2059.6,825.9 2054.9,827.5 2050.3,829 2047.9,830.6 2045.3,831 2045.3,834.9 2047.9,836 2052.6,836 2057.2,834.9 2061.9,834.1 2060.3,837.2 2058.8,839.6 2054.9,840.8 2051,841.6 2049.9,844.2 2050.6,847.3 2052.6,849.6 2056.5,852 2061.1,853.5 2066.5,854.3 2071.2,854.3 2075,853.8 2078.1,852 2080.5,850.1 2082.8,848.9 2086.7,849.6 2090.5,851.5 2094.4,853.2 2100.6,854 2099.8,856.3 2100.6,858.9 2099.1,861.6 2099.5,863.6 2098,866.7 2096,869.5 2092.1,870.6 2089.3,872.9 2089.3,875.2 2090.5,877.5 2086.7,879.8 2082,883.7 2078.1,887.6 2075,892.2 2073.2,896.9 2072.7,901.5 2070.4,900.8 2068.8,905.4 2065,908.5 2060.3,910.8 2054.9,913.5 2049.5,916.2 2044.8,919.3 2041,923.5 2038.6,921.7 2035.5,918.6 2031.7,916.7 2030.9,913.1 2028.6,911.1 2024.7,909.6 2019.3,910.5 2013.1,910.1 2006.9,909.6 2001.5,908 1997.9,904.6 1996.8,900.8 1996,896.1 1993.7,895.6 1994.8,892.2 1996.8,889.9 1996,887.3 1992.2,884.2 1987.5,881.9 1982.1,880.6 1977.5,881.9 1972.8,883.7 1968.9,885.7 1966.6,889.1 1965.8,891.5 1962.7,894.1 1958.9,894.6 1956.5,891.5 1955,889.1 1957,887.9 1954.2,885.3 1951.9,884.8 1950.3,886.4 1948.3,884.8 1944.9,886.8 1942.1,885.3 1940.6,882.6 1938.4,881.1 1937.6,878.3Z M2147.5,816.6 2147.1,814.8 2148.6,811.7 2151.7,810.4 2156.4,809.8 2160.2,809.4 2163.3,810.1 2169.5,809.7 2177.3,809.2 2184.3,809.4 2188.1,807.8 2190.9,806.4 2192.8,809.4 2195.1,810.9 2196.2,814.5 2198.2,813.2 2199.7,808.9 2201.3,809.4 2200.8,812 2204.4,814.5 2208.3,817.6 2212.9,819.4 2215.2,822.5 2215.7,825.3 2212.6,826.4 2218.3,826.4 2219.9,829.5 2221.4,832.6 2224.5,837.2 2223,836.5 2220.7,834.9 2219.4,838 2219.4,843.9 2211.4,844.7 2205.9,842.4 2199,839.3 2191.2,835.4 2183.5,831.4 2177.3,828.4 2172.6,827.2 2167.2,827.2 2161.8,828 2156.4,828.7 2151.3,827.5 2151.7,824.9 2152.5,821.8 2154,820.7 2150.2,819.4 2147.8,817.9Z M1775.3,968.7 1776.9,967.6 1778.9,967.1 1781,968 1783,967.1 1786.1,966.8 1787.2,966.7 1786.6,964.1 1785.9,961 1785.9,958.1 1787.2,956.6 1790.3,955.3 1792.9,953.2 1795.4,951.2 1797.5,951.9 1800.1,950.4 1801.9,950.9 1804.7,949.1 1807.8,947.6 1810.9,946.5 1813.5,946.4 1816.1,946.8 1817.1,945.5 1819.7,944.7 1821.8,945.2 1823.8,946.8 1827.5,947.3 1829.5,948.1 1831.1,949.4 1830.3,950.9 1831.1,953.8 1832.4,956.3 1833.1,958.1 1831.1,958.4 1829.5,959.4 1828.2,961 1827.7,963 1826.4,964.6 1824.4,965.6 1821.8,966.9 1819.7,969.2 1817.1,972.3 1815.1,973.6 1812,974.9 1809.9,976.2 1807.8,975.2 1805.8,976.7 1803.2,978.3 1802.2,981.6 1801.9,984.2 1801.6,986.5 1799.1,986.8 1797,986.5 1796,984 1794.4,982.4 1792.9,981.9 1790.8,982.4 1788.2,982.4 1786.9,980.9 1784.6,980.1 1782.5,980.6 1781,982.4 1777.9,980.6 1775.3,978.8 1774.5,976.5 1775.6,974.1 1776.3,971.3 1775.6,969.2Z M1798.6,1014 1799,1010.7 1799.9,1006.6 1799,1004.4 1800.8,1002 1803.6,1001.4 1806.4,997.3 1808.3,1000.1 1811,1003.3 1813.8,1006.1 1817.5,1007.5 1821.3,1007.9 1825,1006.6 1827.8,1008.5 1828.1,1011.3 1825.9,1012.7 1821.3,1013.1 1817.5,1012.2 1813.8,1010.3 1811,1008.8 1807.7,1010 1804.5,1012.6 1801.4,1014.4Z M2019,940.3 2022.4,937.2 2026.2,935.9 2029.3,935.3 2030.1,939 2029.3,942.6 2026.2,945.7 2021.6,945.4 2020.1,942.6Z M292.1,988.1 294.1,986.2 296.6,982.9 298.9,981 299.2,982.6 297.3,985.5 294.7,988.1 293.1,989.1Z" fill="#efefdb" stroke="#000" stroke-width="2.2" stroke-linejoin="round" stroke-linecap="round"/>
<path d="M453.7,1252.7 457.4,1254.2 462.1,1254.6 466.3,1253.3 468.9,1250.9 464.9,1250.9 460.2,1252 455.6,1252Z M1248,1512.3 1251,1512.1 1251,1512.5 1248,1512.5Z M230,902.8 230.9,901.8 231.1,902.1 230.3,903Z" fill="#000" stroke="#000" stroke-width="2.2" stroke-linejoin="round"/>
<path d="M1161,1402.4 1162.1,1401.3 1163.2,1402.4 1162.1,1403.5Z" fill="#efefdb" stroke="#000" stroke-width="0.9" stroke-linejoin="round"/>
<path d="M1516.3,97.4 1519.4,100.2 1518.9,105.8 1520,110.4 1522.6,113.4 1521.5,108.6 1520.9,104.9 1522,101.2 1520.7,97.4 M1525.6,97.4 1527.8,98.9 1529.7,97.4" fill="none" stroke="#000" stroke-width="2.2" stroke-linejoin="round" stroke-linecap="round"/>
</g>
<rect x="160" y="98" width="2160" height="1440" fill="none" stroke="#000" stroke-width="1.75"/>
<path d="M160,1538 v7 M707.2,1538 v7 M1240,1538 v7 M1772.8,1538 v7 M2320,1538 v7 M160,98 h-7 M160,458 h-7 M160,818 h-7 M160,1178 h-7 M160,1538 h-7" fill="none" stroke="#000" stroke-width="1.75"/>
<text class="sans tk" x="159.5" y="1580.5" text-anchor="middle">10°W</text>
<text class="sans tk" x="706.7" y="1580.5" text-anchor="middle">6.2°W</text>
<text class="sans tk" x="1239.5" y="1580.5" text-anchor="middle">2.5°W</text>
<text class="sans tk" x="1772.3" y="1580.5" text-anchor="middle">1.2°E</text>
<text class="sans tk" x="2319.5" y="1580.5" text-anchor="middle">5°E</text>
<text class="sans tk" x="145.4" y="113.2" text-anchor="end">45°N</text>
<text class="sans tk" x="145.4" y="473.2" text-anchor="end">42.5°N</text>
<text class="sans tk" x="145.4" y="833.2" text-anchor="end">40°N</text>
<text class="sans tk" x="145.4" y="1193.2" text-anchor="end">37.5°N</text>
<text class="sans tk" x="145.4" y="1553.2" text-anchor="end">35°N</text>
<text class="mono" x="160" y="45" xml:space="preserve">Maximum wind gust potential over the ocean (Acum)</text>
<text class="mono" x="160" y="87" xml:space="preserve">ARPEGE 0.1º</text>
<text class="mono" x="1240" y="87" text-anchor="middle" xml:space="preserve">+5 hours</text>
<text class="mono" x="2320" y="45" text-anchor="end" xml:space="preserve">Run 2026-04-13 T 18Z</text>
<text class="mono" x="2320" y="87" text-anchor="end" xml:space="preserve">Forecast: Monday 2026-04-13 T 23Z</text>
<rect x="1602.2" y="1289" width="699" height="231" rx="7.5" ry="7.5" fill="#ffffff" fill-opacity="0.8" stroke="#cccccc" stroke-opacity="0.8" stroke-width="2.1"/>
<rect x="1617.2" y="1306" width="75" height="26.25" fill="#ffff00"/>
<text class="sans" x="1722.2" y="1332.2">Strong gusts, Bft&gt;5</text>
<rect x="1617.2" y="1360.9" width="75" height="26.25" fill="#ffa500"/>
<text class="sans" x="1722.2" y="1387.2">Severe gusts, Bft&gt;8</text>
<rect x="1617.2" y="1415.9" width="75" height="26.25" fill="#ff0000"/>
<text class="sans" x="1722.2" y="1442.1">Hurricane force Gusts, Bft&gt;10</text>
<rect x="1617.2" y="1470.8" width="75" height="26.25" fill="#800080"/>
<text class="sans" x="1722.2" y="1497.1">Major Hurricane Gusts</text>
</svg>
</body>
</html>
